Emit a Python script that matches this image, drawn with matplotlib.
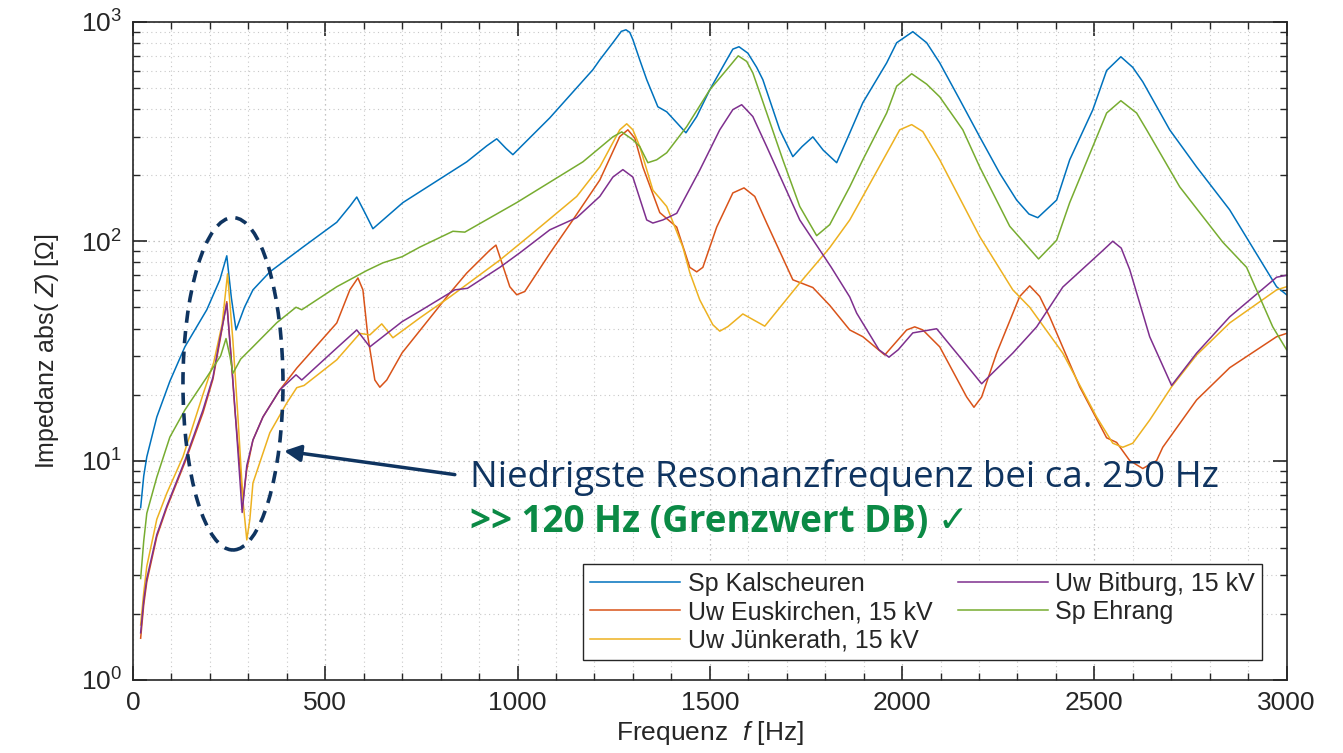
import matplotlib
matplotlib.use("Agg")
import matplotlib.pyplot as plt
from matplotlib.patches import Ellipse
from matplotlib.ticker import MultipleLocator, LogLocator

plt.rcParams['font.family'] = ['Liberation Sans', 'DejaVu Sans']
plt.rcParams['mathtext.fontset'] = 'custom'
plt.rcParams['mathtext.rm'] = 'Liberation Sans'
plt.rcParams['mathtext.it'] = 'Liberation Sans:italic'

# Sp Kalscheuren
f_kal = [20, 28, 36, 62, 96, 135, 192, 226, 244, 256, 268, 290, 312, 356, 442, 530, 565,
         582, 603, 624, 702, 868, 920, 946, 970, 988, 1084, 1196, 1214, 1248, 1270, 1282,
         1292, 1300, 1318, 1336, 1365, 1388, 1414, 1438, 1466, 1500, 1544, 1560, 1576,
         1599, 1622, 1638, 1682, 1716, 1740, 1768, 1795, 1830, 1860, 1898, 1960, 1986,
         2028, 2064, 2098, 2150, 2202, 2254, 2298, 2330, 2353, 2402, 2436, 2496, 2532,
         2569, 2600, 2626, 2696, 2766, 2852, 2974, 3000]
z_kal = [6.1, 8.5, 10.4, 15.8, 23, 33, 48.7, 66.7, 85.8, 55, 39.4, 50, 60, 72.5, 94, 122, 145,
         159, 135, 114, 150, 230, 272, 293, 265, 248, 365, 605, 671, 803, 905, 920,
         895, 830, 670, 545, 410, 389, 347, 312, 370, 490, 671, 751, 770,
         720, 620, 545, 322, 243, 270, 299, 260, 228, 300, 428, 650, 803,
         902, 803, 650, 442, 299, 204, 154, 133, 128, 154, 235, 397, 600,
         693, 620, 533, 322, 218, 139, 62, 57]

# Uw Euskirchen, 15 kV
f_eus = [20, 28, 36, 62, 88, 135, 182, 208, 226, 244, 255, 265, 286, 296, 312, 338, 382,
         426, 530, 564, 585, 598, 611, 629, 642, 660, 700, 824, 868, 928, 944, 980, 998,
         1019, 1084, 1144, 1214, 1266, 1287, 1305, 1326, 1370, 1414, 1448, 1466, 1482,
         1518, 1560, 1589, 1617, 1648, 1716, 1768, 1812, 1864, 1898, 1955, 2012, 2033,
         2054, 2098, 2168, 2187, 2207, 2246, 2306, 2332, 2358, 2384, 2462, 2532, 2558,
         2592, 2626, 2662, 2678, 2766, 2852, 2974, 3000]
z_eus = [1.55, 2.2, 2.8, 4.5, 6.1, 9.8, 16.5, 23.5, 35, 53, 30, 17, 6.6, 9.1, 12.4, 15.8, 21,
         26.4, 42.4, 60, 68, 60, 36.6, 23.3, 21.6, 23.3, 31, 58, 71.6, 91, 96, 62, 57,
         59, 88, 125, 190, 300, 322, 295, 218, 135, 116, 76, 72.5, 76,
         116, 166, 175, 160, 121, 66.7, 61.5, 51, 39.4, 36.7, 30.3, 39.4, 40.7,
         39.4, 33, 19.5, 17.5, 19.5, 30.9, 56, 62.6, 56, 45.2, 21.7, 12.7, 12.1,
         10, 9.2, 10, 11.5, 18.9, 26.5, 36.7, 38]

# Uw Juenkerath, 15 kV
f_jue = [20, 28, 36, 62, 88, 130, 182, 210, 232, 246, 260, 273, 286, 296, 304, 312, 356,
         400, 426, 445, 530, 590, 616, 647, 676, 746, 824, 954, 1040, 1154, 1214, 1266,
         1284, 1300, 1318, 1352, 1388, 1430, 1448, 1474, 1508, 1526, 1547, 1586, 1643,
         1734, 1812, 1864, 1898, 1994, 2025, 2054, 2098, 2202, 2288, 2332, 2418, 2506,
         2548, 2574, 2600, 2644, 2701, 2766, 2852, 2974, 3000]
z_jue = [1.78, 2.5, 3.3, 5.4, 7.1, 10.4, 20, 28, 42, 71, 35, 15.8, 6.6, 4.35, 5.4, 7.9, 13.4,
         18.3, 21.5, 22, 28.8, 38, 37.4, 42, 36.3, 44.7, 55.7, 82, 109, 160, 218, 322,
         343, 322, 270, 171, 144, 94, 72, 54, 41.6, 38.9, 40.8, 46.6, 41,
         64.5, 93.5, 125, 160, 322, 340, 316, 235, 105, 60, 50, 30.9, 15.8,
         12, 11.5, 12, 15.3, 21.7, 30.3, 42.4, 60, 62]

# Uw Bitburg, 15 kV
f_bit = [20, 28, 36, 62, 88, 135, 182, 208, 226, 244, 255, 265, 284, 296, 312, 338, 382,
         424, 439, 530, 582, 616, 700, 746, 837, 870, 954, 1006, 1084, 1154, 1214, 1248,
         1274, 1300, 1336, 1352, 1378, 1414, 1474, 1526, 1560, 1583, 1612, 1648, 1734,
         1816, 1864, 1882, 1940, 1966, 1990, 2028, 2090, 2142, 2207, 2288, 2350, 2418,
         2520, 2548, 2570, 2592, 2644, 2701, 2766, 2852, 2974, 3000]
z_bit = [1.64, 2.3, 2.9, 4.6, 6.2, 10, 17, 24, 36, 52, 30, 17.5, 5.8, 9.5, 12.4, 15.8, 21,
         24.6, 23.3, 32.6, 39.4, 33, 43, 48, 60, 61, 76, 88.5, 112.7, 128, 160, 196,
         212, 196, 125, 121, 125, 134, 211, 322, 398, 419, 370, 270, 125,
         76, 55.7, 47, 32, 29.6, 32, 38.2, 39.9, 30.9, 22.4, 30.9, 40.7, 61.8,
         90, 100, 93, 74.3, 36.7, 22, 30.9, 45.2, 68.5, 70]

# Sp Ehrang
f_ehr = [20, 28, 36, 62, 96, 135, 192, 228, 242, 252, 260, 280, 312, 374, 424, 439, 530,
         608, 650, 700, 746, 832, 863, 998, 1170, 1248, 1271, 1300, 1318, 1339, 1362,
         1388, 1440, 1500, 1544, 1574, 1596, 1612, 1630, 1690, 1734, 1778, 1812, 1864,
         1898, 1960, 1986, 2025, 2064, 2098, 2158, 2202, 2280, 2355, 2402, 2436, 2532,
         2569, 2610, 2636, 2722, 2834, 2896, 2964, 3000]
z_ehr = [2.9, 4.3, 5.75, 8.4, 12.8, 17, 24, 30, 36, 30, 25, 29, 33, 42.5, 50, 48.7, 62,
         73.5, 79.7, 85, 94, 111, 110, 150, 230, 299, 315, 290, 270, 228, 235,
         253, 333, 490, 605, 700, 660, 585, 475, 235, 144, 106, 119, 177,
         235, 384, 509, 580, 520, 455, 322, 218, 117, 83, 101, 150, 384,
         437, 384, 322, 177, 99, 76, 40.7, 32]

series = [
    ('Sp Kalscheuren', f_kal, z_kal, '#0072BD'),
    ('Uw Euskirchen, 15 kV', f_eus, z_eus, '#D95319'),
    ('Uw Jünkerath, 15 kV', f_jue, z_jue, '#EDB120'),
    ('Uw Bitburg, 15 kV', f_bit, z_bit, '#7E2F8E'),
    ('Sp Ehrang', f_ehr, z_ehr, '#77AC30'),
]

navy = '#0f3460'
green = '#0b8a45'
dark = '#262626'

fig = plt.figure(figsize=(13.43, 7.53), dpi=100)
ax = fig.add_axes([0.099, 0.097, 0.859, 0.874])

for name, f, z, c in series:
    ax.plot(f, z, color=c, lw=1.1, label=name)

ax.set_yscale('log')
ax.set_xlim(0, 3000)
ax.set_ylim(1, 1000)
ax.xaxis.set_major_locator(MultipleLocator(500))
ax.xaxis.set_minor_locator(MultipleLocator(100))
ax.yaxis.set_major_locator(LogLocator(base=10, numticks=10))
ax.yaxis.set_minor_locator(LogLocator(base=10, subs=range(2, 10), numticks=20))

ax.grid(True, which='major', linestyle=(0, (1, 3)), color='#b0b0b0', lw=0.9)
ax.grid(True, which='minor', linestyle=(0, (1, 3)), color='#c8c8c8', lw=0.8)
ax.set_axisbelow(True)

ax.tick_params(which='both', direction='in', top=True, right=True, colors=dark,
               labelcolor=dark, labelsize=19, pad=8)
ax.tick_params(which='major', length=10, width=1.2)
ax.tick_params(which='minor', length=5, width=1.0)
for s in ax.spines.values():
    s.set_color(dark)
    s.set_linewidth(1.2)

ax.set_xlabel('Frequenz  $f$ [Hz]', fontsize=19, color=dark, labelpad=3)
ax.set_ylabel('Impedanz abs( $Z$) [Ω]', fontsize=18, color=dark, labelpad=14)

leg = ax.legend(ncol=2, loc='lower right', bbox_to_anchor=(0.979, 0.03),
                borderaxespad=0, fontsize=18, handlelength=3.6, handletextpad=0.3,
                columnspacing=1.0, labelspacing=0.18, borderpad=0.3,
                fancybox=False, framealpha=1, edgecolor=dark)
leg.get_frame().set_linewidth(1.0)
for t in leg.get_texts():
    t.set_color(dark)

# marked resonance region
ell = Ellipse((0.0867, 0.450), 0.0867, 0.505, transform=ax.transAxes, fill=False,
              edgecolor=navy, lw=2.6, linestyle=(0, (3.4, 2.3)), zorder=5)
ax.add_patch(ell)

ax.annotate('', xy=(0.131, 0.348), xytext=(0.279, 0.312), xycoords='axes fraction',
            textcoords='axes fraction',
            arrowprops=dict(arrowstyle='-|>', lw=2.5, color=navy, mutation_scale=25,
                            shrinkA=0, shrinkB=0), zorder=6)

ax.text(0.292, 0.307, 'Niedrigste Resonanzfrequenz bei ca. 250 Hz', transform=ax.transAxes,
        fontsize=26.5, color=navy, va='center', ha='left', family=['Open Sans', 'DejaVu Sans'])
ax.text(0.292, 0.240, '>> 120 Hz (Grenzwert DB) ✓', transform=ax.transAxes,
        fontsize=26.5, color=green, va='center', ha='left', fontweight='bold',
        family=['Open Sans', 'DejaVu Sans'])

fig.savefig('out.png', dpi=100)
